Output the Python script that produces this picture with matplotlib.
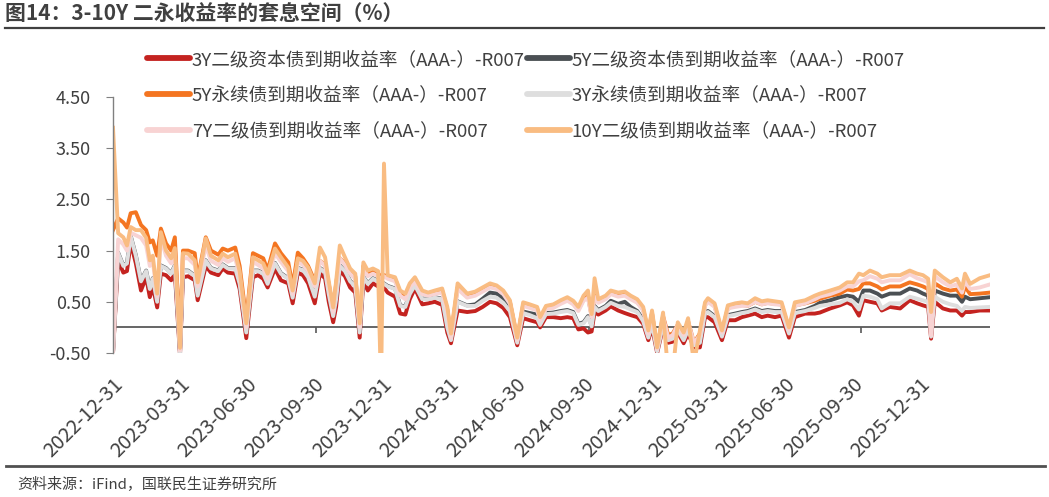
import matplotlib
matplotlib.use('Agg')
import matplotlib.pyplot as plt
import matplotlib.transforms as mtransforms
from matplotlib.lines import Line2D
import pandas as pd

plt.rcParams['font.family'] = ['Noto Sans CJK SC', 'DejaVu Sans']
plt.rcParams['axes.unicode_minus'] = False

dates = [
    '2022-12-31', '2023-01-07', '2023-01-14', '2023-01-19', '2023-01-24', '2023-01-31', '2023-02-07', '2023-02-14', '2023-02-19', '2023-02-23',
    '2023-03-01', '2023-03-06', '2023-03-13', '2023-03-20', '2023-03-25', '2023-04-01', '2023-04-05', '2023-04-12', '2023-04-21', '2023-04-25',
    '2023-05-06', '2023-05-13', '2023-05-23', '2023-05-29', '2023-06-05', '2023-06-15', '2023-06-21', '2023-06-30', '2023-07-09', '2023-07-16',
    '2023-07-23', '2023-07-29', '2023-08-08', '2023-08-16', '2023-08-26', '2023-09-01', '2023-09-08', '2023-09-15', '2023-09-22', '2023-10-01',
    '2023-10-08', '2023-10-15', '2023-10-20', '2023-10-26', '2023-10-30', '2023-11-04', '2023-11-11', '2023-11-18', '2023-11-25', '2023-12-01',
    '2023-12-06', '2023-12-12', '2023-12-19', '2023-12-26', '2023-12-30', '2024-01-03', '2024-01-08', '2024-01-18', '2024-01-25', '2024-02-01',
    '2024-02-07', '2024-02-14', '2024-02-24', '2024-03-03', '2024-03-12', '2024-03-22', '2024-03-29', '2024-04-03', '2024-04-12', '2024-04-25',
    '2024-05-06', '2024-05-16', '2024-05-26', '2024-06-04', '2024-06-13', '2024-06-22', '2024-07-02', '2024-07-10', '2024-07-19', '2024-07-29',
    '2024-08-02', '2024-08-10', '2024-08-20', '2024-08-30', '2024-09-08', '2024-09-16', '2024-09-23', '2024-09-30', '2024-10-06', '2024-10-11',
    '2024-10-15', '2024-10-20', '2024-10-30', '2024-11-06', '2024-11-16', '2024-11-25', '2024-12-03', '2024-12-12', '2024-12-20', '2024-12-27',
    '2025-01-01', '2025-01-08', '2025-01-16', '2025-01-23', '2025-01-29', '2025-02-05', '2025-02-13', '2025-02-19', '2025-02-27', '2025-03-07',
    '2025-03-14', '2025-03-18', '2025-03-27', '2025-04-06', '2025-04-14', '2025-04-24', '2025-05-03', '2025-05-11', '2025-05-21', '2025-05-30',
    '2025-06-07', '2025-06-17', '2025-06-26', '2025-07-06', '2025-07-14', '2025-07-28', '2025-08-10', '2025-08-17', '2025-08-31', '2025-09-13',
    '2025-09-23', '2025-10-01', '2025-10-09', '2025-10-15', '2025-10-24', '2025-11-03', '2025-11-09', '2025-11-20', '2025-12-04', '2025-12-17',
    '2025-12-27', '2026-01-04', '2026-01-11', '2026-01-15', '2026-01-20', '2026-01-31', '2026-02-10', '2026-02-19', '2026-02-26', '2026-03-02',
    '2026-03-09', '2026-03-22', '2026-04-05',
]

# 3Y二级资本债
y3_tier2 = [
    -0.50, 1.31, 1.07, 1.10, 1.66, 1.25, 0.72, 0.98, 0.59, 0.80,
    0.39, 1.05, 1.02, 0.92, 1.05, -0.55, 0.98, 1.00, 0.92, 0.53,
    1.20, 1.07, 1.02, 1.15, 1.07, 1.05, 0.75, -0.21, 0.98, 1.02,
    0.95, 0.78, 1.15, 0.92, 0.86, 0.47, 1.07, 1.02, 0.86, 0.47,
    1.05, 0.96, 0.50, 0.10, 0.40, 1.11, 1.00, 0.78, 0.68, -0.20,
    0.90, 0.72, 0.86, 0.80, 0.75, 0.78, 0.68, 0.60, 0.27, 0.25,
    0.55, 0.76, 0.45, 0.47, 0.50, 0.44, -0.10, -0.31, 0.33, 0.30,
    0.32, 0.40, 0.50, 0.47, 0.38, 0.20, -0.35, 0.18, 0.14, 0.10,
    0.00, 0.20, 0.20, 0.18, 0.20, 0.18, -0.04, -0.02, -0.10, -0.08,
    0.30, 0.25, 0.33, 0.41, 0.33, 0.28, 0.24, 0.20, 0.07, -0.25,
    0.00, -0.50, 0.00, -0.30, -0.28, -0.10, -0.31, -0.12, -0.39, -0.39,
    0.20, 0.20, 0.10, -0.25, 0.14, 0.14, 0.20, 0.23, 0.27, 0.20,
    0.23, 0.20, 0.23, -0.20, 0.20, 0.27, 0.27, 0.29, 0.37, 0.43,
    0.49, 0.43, 0.23, 0.53, 0.50, 0.47, 0.33, 0.40, 0.37, 0.53,
    0.47, 0.43, 0.40, -0.22, 0.50, 0.37, 0.33, 0.33, 0.23, 0.30,
    0.30, 0.33, 0.33,
]

# 5Y二级资本债
y5_tier2 = [
    -0.50, 1.46, 1.21, 1.26, 1.79, 1.41, 0.91, 1.11, 0.76, 0.96,
    0.51, 1.21, 1.16, 1.06, 1.21, -0.49, 1.11, 1.11, 1.01, 0.63,
    1.31, 1.16, 1.11, 1.23, 1.16, 1.16, 0.86, -0.09, 1.11, 1.11,
    1.06, 0.86, 1.26, 1.06, 0.96, 0.59, 1.16, 1.13, 0.99, 0.61,
    1.16, 1.09, 0.66, 0.23, 0.56, 1.21, 1.11, 0.91, 0.81, -0.09,
    0.99, 0.86, 0.96, 0.91, 0.86, 0.86, 0.81, 0.76, 0.43, 0.41,
    0.66, 0.83, 0.56, 0.56, 0.59, 0.56, 0.01, -0.24, 0.51, 0.43,
    0.45, 0.56, 0.68, 0.66, 0.56, 0.38, -0.28, 0.31, 0.28, 0.25,
    0.08, 0.28, 0.29, 0.32, 0.34, 0.30, 0.07, 0.10, 0.22, 0.04,
    0.42, 0.34, 0.42, 0.52, 0.46, 0.50, 0.40, 0.32, 0.15, -0.18,
    0.10, -0.45, 0.08, -0.22, -0.20, -0.03, -0.23, -0.03, -0.33, -0.30,
    0.30, 0.32, 0.22, -0.16, 0.24, 0.27, 0.30, 0.32, 0.37, 0.32,
    0.34, 0.32, 0.32, -0.10, 0.30, 0.34, 0.42, 0.48, 0.53, 0.59,
    0.62, 0.60, 0.50, 0.72, 0.72, 0.66, 0.60, 0.66, 0.66, 0.76,
    0.72, 0.66, 0.62, 0.00, 0.72, 0.66, 0.62, 0.62, 0.50, 0.60,
    0.55, 0.57, 0.59,
]

# 5Y永续债
y5_perp = [
    1.90, 2.13, 2.05, 1.95, 2.23, 2.25, 2.00, 1.90, 1.66, 1.70,
    1.40, 1.93, 1.64, 1.50, 1.76, -0.30, 1.50, 1.50, 1.45, 0.95,
    1.76, 1.50, 1.42, 1.54, 1.50, 1.56, 1.20, 0.15, 1.45, 1.40,
    1.35, 1.12, 1.64, 1.45, 1.27, 0.80, 1.46, 1.35, 1.20, 0.90,
    1.30, 1.22, 0.85, 0.35, 0.85, 1.35, 1.25, 1.08, 1.00, 0.05,
    1.20, 1.05, 1.10, 1.05, 1.00, 1.02, 1.00, 0.95, 0.68, 0.60,
    0.82, 0.94, 0.68, 0.65, 0.68, 0.72, 0.35, -0.15, 0.78, 0.60,
    0.65, 0.74, 0.84, 0.78, 0.68, 0.50, -0.22, 0.44, 0.40, 0.36,
    0.16, 0.38, 0.40, 0.48, 0.54, 0.47, 0.35, 0.55, 0.60, 0.22,
    0.62, 0.50, 0.58, 0.68, 0.62, 0.66, 0.58, 0.50, 0.35, -0.10,
    0.28, -0.40, 0.22, -0.15, -0.12, 0.05, -0.15, 0.12, -0.30, -0.12,
    0.44, 0.52, 0.42, -0.10, 0.38, 0.42, 0.44, 0.42, 0.50, 0.45,
    0.48, 0.46, 0.45, -0.05, 0.43, 0.47, 0.52, 0.56, 0.62, 0.66,
    0.74, 0.72, 0.75, 0.86, 0.86, 0.80, 0.74, 0.80, 0.80, 0.88,
    0.84, 0.80, 0.75, 0.10, 0.86, 0.76, 0.72, 0.74, 0.60, 0.80,
    0.65, 0.66, 0.68,
]

# 3Y永续债
y3_perp = [
    -0.50, 1.45, 1.20, 1.25, 1.78, 1.40, 0.90, 1.10, 0.75, 0.95,
    0.50, 1.20, 1.15, 1.05, 1.20, -0.50, 1.10, 1.10, 1.00, 0.62,
    1.30, 1.15, 1.10, 1.22, 1.15, 1.15, 0.85, -0.10, 1.10, 1.10,
    1.05, 0.85, 1.25, 1.05, 0.95, 0.58, 1.15, 1.12, 0.98, 0.60,
    1.15, 1.08, 0.65, 0.22, 0.55, 1.20, 1.10, 0.90, 0.80, -0.10,
    0.98, 0.85, 0.95, 0.90, 0.85, 0.85, 0.80, 0.75, 0.42, 0.40,
    0.65, 0.82, 0.55, 0.55, 0.58, 0.55, 0.00, -0.25, 0.50, 0.42,
    0.42, 0.52, 0.60, 0.58, 0.48, 0.32, -0.30, 0.28, 0.24, 0.18,
    0.05, 0.26, 0.27, 0.30, 0.32, 0.28, 0.05, 0.08, 0.20, 0.02,
    0.40, 0.32, 0.40, 0.48, 0.42, 0.40, 0.35, 0.30, 0.12, -0.20,
    0.07, -0.47, 0.05, -0.25, -0.22, -0.05, -0.25, -0.05, -0.35, -0.30,
    0.28, 0.30, 0.20, -0.18, 0.22, 0.25, 0.28, 0.30, 0.35, 0.30,
    0.32, 0.30, 0.30, -0.12, 0.28, 0.32, 0.38, 0.42, 0.45, 0.48,
    0.55, 0.50, 0.35, 0.62, 0.60, 0.55, 0.37, 0.47, 0.47, 0.60,
    0.56, 0.53, 0.50, -0.18, 0.60, 0.50, 0.45, 0.42, 0.32, 0.40,
    0.38, 0.39, 0.40,
]

# 7Y二级债
y7_tier2 = [
    -0.50, 1.72, 1.62, 1.50, 1.85, 1.80, 1.75, 1.60, 1.20, 1.30,
    0.60, 1.75, 1.40, 1.25, 1.45, -0.45, 1.35, 1.35, 1.22, 0.80,
    1.60, 1.30, 1.22, 1.35, 1.28, 1.35, 1.00, 0.00, 1.28, 1.22,
    1.15, 0.95, 1.45, 1.28, 1.10, 0.65, 1.28, 1.22, 1.10, 0.80,
    1.30, 1.20, 0.80, 0.30, 0.80, 1.35, 1.22, 1.05, 0.95, 0.00,
    1.15, 1.00, 1.05, 1.00, 0.95, 1.00, 0.95, 0.90, 0.62, 0.55,
    0.78, 0.90, 0.65, 0.62, 0.65, 0.68, 0.30, -0.20, 0.75, 0.58,
    0.62, 0.70, 0.78, 0.75, 0.65, 0.46, -0.25, 0.42, 0.38, 0.33,
    0.14, 0.36, 0.38, 0.46, 0.52, 0.45, 0.32, 0.52, 0.58, 0.20,
    0.60, 0.48, 0.55, 0.65, 0.60, 0.62, 0.55, 0.48, 0.33, -0.12,
    0.25, -0.42, 0.20, -0.20, -0.15, 0.05, -0.15, 0.10, -0.30, -0.15,
    0.42, 0.50, 0.40, -0.10, 0.37, 0.40, 0.42, 0.42, 0.50, 0.45,
    0.47, 0.45, 0.44, -0.05, 0.42, 0.47, 0.55, 0.60, 0.65, 0.72,
    0.80, 0.80, 0.90, 0.92, 1.00, 0.95, 0.88, 0.92, 0.92, 1.04,
    0.96, 0.92, 0.88, -0.15, 1.00, 0.88, 0.80, 0.84, 0.68, 0.90,
    0.75, 0.78, 0.84,
]

# 10Y二级债
y10_tier2 = [
    3.90, 1.84, 1.76, 1.60, 1.96, 1.90, 1.90, 1.75, 1.31, 1.40,
    0.66, 1.86, 1.50, 1.35, 1.55, -0.40, 1.45, 1.44, 1.31, 0.88,
    1.74, 1.40, 1.31, 1.44, 1.37, 1.44, 1.10, 0.08, 1.37, 1.31,
    1.25, 1.05, 1.54, 1.37, 1.17, 0.72, 1.35, 1.30, 1.17, 0.86,
    1.56, 1.37, 0.90, 0.39, 0.90, 1.60, 1.37, 1.15, 1.05, 0.08,
    1.27, 1.11, 1.15, 1.10, -1.20, 3.20, 1.02, 0.98, 0.72, 0.66,
    0.86, 0.98, 0.72, 0.68, 0.72, 0.76, 0.40, -0.12, 0.86, 0.66,
    0.70, 0.78, 0.86, 0.82, 0.72, 0.53, -0.20, 0.49, 0.45, 0.40,
    0.20, 0.42, 0.45, 0.53, 0.59, 0.52, 0.40, 0.62, 0.72, 0.26,
    0.96, 0.55, 0.62, 0.72, 0.68, 0.70, 0.62, 0.55, 0.40, -0.06,
    0.33, -0.39, 0.29, -0.90, -0.90, 0.10, -0.10, 0.18, -0.70, -0.06,
    0.49, 0.57, 0.47, -0.06, 0.43, 0.47, 0.49, 0.47, 0.57, 0.51,
    0.53, 0.51, 0.49, 0.00, 0.49, 0.53, 0.62, 0.66, 0.72, 0.78,
    0.88, 0.88, 1.05, 1.02, 1.11, 1.05, 0.98, 1.02, 1.02, 1.11,
    1.05, 1.02, 0.95, 0.30, 1.11, 0.98, 0.88, 0.95, 0.76, 1.05,
    0.85, 0.96, 1.02,
]

labels = [
    '3Y二级资本债到期收益率（AAA-）-R007',
    '5Y二级资本债到期收益率（AAA-）-R007',
    '5Y永续债到期收益率（AAA-）-R007',
    '3Y永续债到期收益率（AAA-）-R007',
    '7Y二级债到期收益率（AAA-）-R007',
    '10Y二级债到期收益率（AAA-）-R007',
]
series = [y3_tier2, y5_tier2, y5_perp, y3_perp, y7_tier2, y10_tier2]
colors = ['#C42320', '#4B5054', '#F47521', '#DEDEDE', '#F8D3D3', '#F9BC82']

for s in series:
    assert len(s) == len(dates)

x = pd.to_datetime(dates)
text_color = '#404040'

fig = plt.figure(figsize=(10.49, 4.97), dpi=100)
ax = fig.add_axes([113 / 1049, 1 - 353 / 497, (990 - 113) / 1049, (353 - 97) / 497])

ax.axhline(0, color='#595959', lw=1.3, zorder=1)
marks = pd.to_datetime(['2023-10-03', '2024-10-07', '2025-10-12'])
ax.vlines(marks, -0.1, 0, color='#595959', lw=1.2, zorder=1)

handles = []
for s, c, lab in zip(series, colors, labels):
    ax.plot(x, s, color=c, lw=2.8, label=lab, zorder=2)
    handles.append(Line2D([], [], color=c, lw=4.2, solid_capstyle='round', label=lab))

ax.set_ylim(-0.5, 4.5)
ax.set_xlim(pd.Timestamp('2022-12-31'), pd.Timestamp('2026-04-05'))
yt = [-0.5, 0.5, 1.5, 2.5, 3.5, 4.5]
ax.set_yticks(yt)
ax.set_yticklabels([f'{v:.2f}' for v in yt])

qticks = pd.to_datetime(['2022-12-31', '2023-03-31', '2023-06-30', '2023-09-30', '2023-12-31',
                         '2024-03-31', '2024-06-30', '2024-09-30', '2024-12-31',
                         '2025-03-31', '2025-06-30', '2025-09-30', '2025-12-31'])
ax.set_xticks(qticks)
ax.set_xticklabels([d.strftime('%Y-%m-%d') for d in qticks], rotation=45,
                   ha='right', va='top', rotation_mode='anchor')
shift = mtransforms.ScaledTranslation(4 / 100, 0, fig.dpi_scale_trans)
for lbl in ax.get_xticklabels():
    lbl.set_transform(lbl.get_transform() + shift)

for sp in ['top', 'right', 'bottom']:
    ax.spines[sp].set_visible(False)
ax.spines['left'].set_color('#808080')
ax.spines['left'].set_linewidth(1.0)
ax.tick_params(axis='y', length=5, color='#808080', labelsize=13, labelcolor=text_color, pad=11)
ax.tick_params(axis='x', length=0, labelsize=14.5, labelcolor=text_color, pad=15)

order = [0, 2, 4, 1, 3, 5]
fig.legend([handles[i] for i in order], [labels[i] for i in order], ncol=2,
           loc='upper left', bbox_to_anchor=(147 / 1049, 1 - 51 / 497),
           frameon=False, fontsize=13.4, labelcolor=text_color,
           handlelength=2.3, handletextpad=0.1, columnspacing=0.12,
           labelspacing=0.95, borderpad=0, borderaxespad=0)

fig.text(5 / 1049, 1 - 14 / 497, '图14：3-10Y 二永收益率的套息空间（%）',
         fontsize=15, fontweight='bold', color=text_color, va='center', ha='left')
fig.add_artist(Line2D([5 / 1049, 1044 / 1049], [1 - 28 / 497, 1 - 28 / 497],
                      color='#404040', lw=1.6))
fig.add_artist(Line2D([6 / 1049, 1045 / 1049], [1 - 466 / 497, 1 - 466 / 497],
                      color='#505050', lw=2.0))
fig.text(17 / 1049, 1 - 485 / 497, '资料来源：iFind，国联民生证券研究所',
         fontsize=10.8, color=text_color, va='center', ha='left')

fig.savefig('out.png', dpi=100)
